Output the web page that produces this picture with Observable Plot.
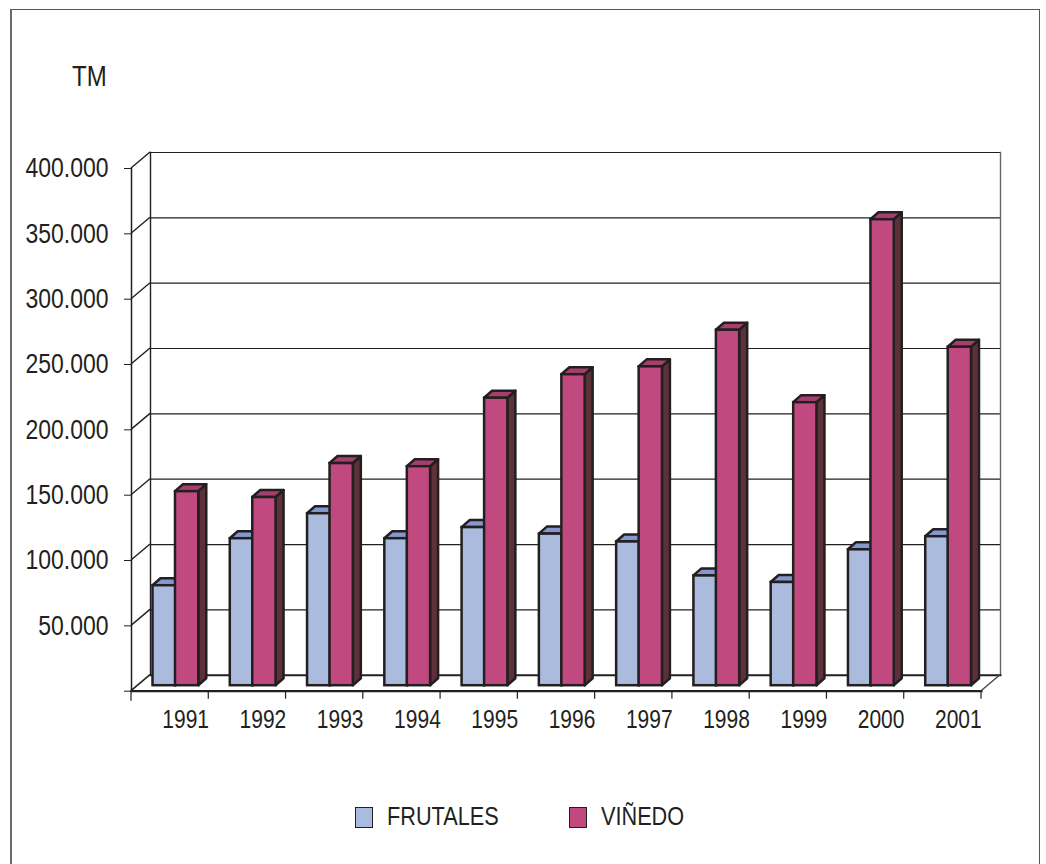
<!DOCTYPE html>
<html><head><meta charset="utf-8">
<script src="https://cdn.jsdelivr.net/npm/d3@7"></script>
<script src="https://cdn.jsdelivr.net/npm/@observablehq/plot@0.6"></script>
<style>
html,body{margin:0;padding:0;background:#fff}
#page{position:relative;width:1046px;height:864px;overflow:hidden;font-family:"Liberation Sans",sans-serif;color:#231f20}
#border{position:absolute;left:10px;top:9px;width:1030px;height:870px;border:1.5px solid #555;border-left:2px solid #6a6a6a;box-sizing:border-box}
#chart{position:absolute;left:0;top:0}
#unit{position:absolute;left:72px;top:62px;font-size:24px;line-height:28px;transform:scaleY(1.2)}
.lg{position:absolute;top:804px;font-size:21.7px;line-height:26px;display:flex;align-items:center}
.lg i{display:inline-block;width:18px;height:21px;box-sizing:border-box;border:1.5px solid #231f20;margin-right:14px}
.lg span{display:inline-block;transform:scaleY(1.2)}
</style></head><body>
<div id="page"><div id="border"></div><div id="chart"></div><div id="unit">TM</div></div>
<script>
const years = ["1991","1992","1993","1994","1995","1996","1997","1998","1999","2000","2001"];
const frutales = [76500,112500,131600,112500,121000,116000,110000,84000,79000,104000,114000];
const vinedo = [148500,144000,170000,167600,220000,238000,244000,272000,216600,356600,259000];
const seriesNames = ["FRUTALES","VIÑEDO"];
const seriesColors = ["#aabbdd","#c04a7f"];
const topColors = ["#8497cf","#a63f6e"];
const sideColors = ["#6f7fa8","#5c3139"];
const yTicks = [0,50000,100000,150000,200000,250000,300000,350000,400000];
const ink = "#231f20";

const rows = seriesNames.flatMap((s,k)=>years.map((y,i)=>({year:y,series:s,k,value:(k?vinedo:frutales)[i]})));
const wallDx = 19, wallDy = -16;
const barDy = -5.5, faceDx = 8, faceDy = -7;
const insets = [[21.5,33],[44,10]];
const barStroke = 2.5;

function path(pts,fill){
  const p=document.createElementNS("http://www.w3.org/2000/svg","path");
  p.setAttribute("d","M"+pts.map(q=>q.join(",")).join("L")+"Z");
  p.setAttribute("fill",fill);p.setAttribute("stroke",ink);
  p.setAttribute("stroke-width",barStroke);p.setAttribute("stroke-linejoin","round");
  return p;
}
function line(x1,y1,x2,y2,stroke,w){
  const l=document.createElementNS("http://www.w3.org/2000/svg","line");
  for(const [k,v] of Object.entries({x1,y1,x2,y2,stroke,"stroke-width":w})) l.setAttribute(k,v);
  return l;
}
const depthEdges = (index,{x,y},values,dim)=>{
  const g=document.createElementNS("http://www.w3.org/2000/svg","g");
  const L=dim.marginLeft,R=dim.width-dim.marginRight;
  for(const t of yTicks) g.appendChild(line(L,y(t),L+wallDx,y(t)+wallDy,ink,t?1.4:1.6));
  g.appendChild(line(R,y(0),R+wallDx,y(0)+wallDy,"#444",1.4));
  const bw=x.bandwidth();
  for(const yr of years) g.appendChild(line(x(yr)+bw,y(0),x(yr)+bw,y(0)+8,ink,1.2));
  g.appendChild(line(L,y(0),L,y(0)+10,ink,1.2));
  return g;
};
const faces = (index,{x,y})=>{
  const g=document.createElementNS("http://www.w3.org/2000/svg","g");
  for(const r of rows){
    const [a,b]=insets[r.k];
    const x0=x(r.year)+a,x1=x(r.year)+x.bandwidth()-b;
    const yt=y(r.value)+barDy,yb=y(0)+barDy;
    g.appendChild(path([[x1,yb],[x1+faceDx,yb+faceDy],[x1+faceDx,yt+faceDy],[x1,yt]],sideColors[r.k]));
    g.appendChild(path([[x0,yt],[x0+faceDx,yt+faceDy],[x1+faceDx,yt+faceDy],[x1,yt]],topColors[r.k]));
  }
  return g;
};
const front = k => Plot.barY(rows.filter(r=>r.k===k),{x:"year",y:"value",fill:"series",stroke:ink,strokeWidth:barStroke,
  insetLeft:insets[k][0],insetRight:insets[k][1],dy:barDy});

const chart = Plot.plot({
  width:1046,height:760,marginLeft:131,marginRight:65,marginTop:168,marginBottom:69.3,
  style:{fontFamily:'"Liberation Sans",sans-serif',background:"transparent",color:ink},
  x:{type:"band",domain:years,padding:0,round:false,label:null},
  y:{domain:[0,400000],label:null},
  color:{domain:seriesNames,range:seriesColors},
  marks:[
    Plot.ruleY(yTicks.slice(1,-1),{stroke:ink,strokeWidth:1.2,strokeOpacity:1,dx:wallDx,dy:wallDy}),
    Plot.frame({anchor:"top",stroke:ink,strokeWidth:1.2,strokeOpacity:1,dx:wallDx,dy:wallDy}),
    Plot.frame({anchor:"left",stroke:ink,strokeWidth:1.4,strokeOpacity:1,dx:wallDx,dy:wallDy}),
    Plot.frame({anchor:"right",stroke:"#666",strokeWidth:1.4,strokeOpacity:1,dx:wallDx,dy:wallDy}),
    Plot.frame({anchor:"bottom",stroke:ink,strokeWidth:2,strokeOpacity:1,dx:wallDx,dy:wallDy}),
    Plot.frame({anchor:"left",stroke:ink,strokeWidth:1.5,strokeOpacity:1}),
    Plot.frame({anchor:"bottom",stroke:ink,strokeWidth:2.2,strokeOpacity:1}),
    depthEdges,
    Plot.axisY({ticks:yTicks,tickSize:7,tickPadding:16,stroke:ink,strokeOpacity:1,fontSize:23,fill:ink,
      tickFormat:d=>d===0?"":d3.format(",")(d).replace(/,/g,"."),label:null}),
    Plot.axisX({tickSize:0,tickPadding:19,dx:15.5,fontSize:21,fill:ink,label:null}),
    faces,
    front(0),
    front(1)
  ]
});
document.getElementById("chart").appendChild(chart);
// The reference's lettering is taller than wide: stretch each axis label about its own baseline.
chart.querySelectorAll("text").forEach(t=>{
  const y=+t.getAttribute("y")||0, tr=t.getAttribute("transform")||"";
  t.setAttribute("transform",`${tr} translate(0,${y}) scale(1,1.2) translate(0,${-y})`);
});

const page=document.getElementById("page");
[355,569].forEach((left,k)=>{
  const d=document.createElement("div");d.className="lg";d.style.left=left+"px";
  const i=document.createElement("i");i.style.background=seriesColors[k];
  const s=document.createElement("span");s.textContent=seriesNames[k];
  d.appendChild(i);d.appendChild(s);
  page.appendChild(d);
});
</script></body></html>
